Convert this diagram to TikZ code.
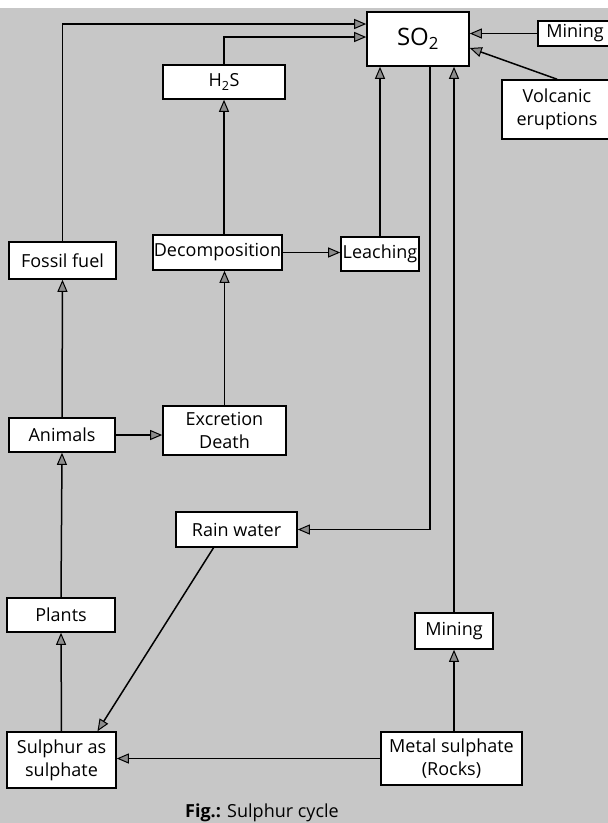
\documentclass[tikz,border=0pt]{standalone}
\usepackage{fontspec}
\setmainfont{Open Sans}
\usetikzlibrary{arrows.meta}

\begin{document}
\begin{tikzpicture}[x=1pt,y=-1pt,
  box/.style={draw,line width=1.6pt,fill=white,inner sep=0pt,align=center,
    font=\fontsize{18}{23}\selectfont},
  arr/.style={line width=1.5pt,-{Triangle[length=12pt,width=10pt,fill=black!45,line width=1pt]}}]
\useasboundingbox (0,0) rectangle (608,823);
\fill[black!22] (0,8) rectangle (608,823);
%
\node[box,minimum width=102pt,minimum height=54pt,font=\fontsize{24}{26}\selectfont] (so2) at (418,39) {SO\textsubscript{2}};
\node[box,minimum width=74pt,minimum height=25pt] (minetop) at (575,33.5) {Mining};
\node[box,minimum width=110pt,minimum height=59pt] (volc) at (557,109.5) {Volcanic\\eruptions};
\node[box,minimum width=122pt,minimum height=34pt] (h2s) at (224,82) {H\textsubscript{2}S};
\node[box,minimum width=107pt,minimum height=37pt] (fossil) at (62.5,260.5) {Fossil fuel};
\node[box,minimum width=129pt,minimum height=35pt] (decomp) at (217.5,252.5) {Decomposition};
\node[box,minimum width=78pt,minimum height=34pt] (leach) at (380,254) {Leaching};
\node[box,minimum width=106pt,minimum height=34pt] (animals) at (62,435) {Animals};
\node[box,minimum width=123pt,minimum height=49pt] (excr) at (224.5,430.5) {Excretion\\Death};
\node[box,minimum width=121pt,minimum height=35pt] (rain) at (236.5,529.5) {Rain water};
\node[box,minimum width=108pt,minimum height=34pt] (plants) at (61,615) {Plants};
\node[box,minimum width=78pt,minimum height=36pt] (minelow) at (454,631) {Mining};
\node[box,minimum width=109pt,minimum height=56pt] (sulph) at (61.5,760) {Sulphur as\\sulphate};
\node[box,minimum width=141pt,minimum height=53pt] (metal) at (451.5,758.5) {Metal sulphate\\(Rocks)};
\node[anchor=base west,inner sep=0pt,font=\fontsize{18}{20}\selectfont] (cap) at (185,817) {\textbf{Fig.:} Sulphur cycle};
%
\draw[arr] (fossil.north) |- ([yshift=15pt]so2.west);
\draw[arr] (h2s.north) |- ([yshift=2pt]so2.west);
\draw[arr] (minetop.west) -- (minetop.west -| so2.east);
\draw[arr] (volc.north) -- ([yshift=-9pt]so2.east);
\draw[arr] (leach.north) -- (leach.north |- so2.south);
\draw[arr] (minelow.north) -- (minelow.north |- so2.south);
\draw[arr] ([xshift=12pt]so2.south) |- (rain.east);
\draw[arr] (h2s.south |- decomp.north) -- (h2s.south);
\draw[arr] (decomp.east) -- (decomp.east -| leach.west);
\draw[arr] (excr.north) -- (excr.north |- decomp.south);
\draw[arr] (animals.east) -- (animals.east -| excr.west);
\draw[arr] (animals.north) -- (fossil.south);
\draw[arr] (plants.north) -- (animals.south);
\draw[arr] (sulph.north) -- (plants.south);
\draw[arr] ([xshift=-23pt]rain.south) -- ([xshift=36pt]sulph.north);
\draw[arr] (metal.west) -- (metal.west -| sulph.east);
\draw[arr] (minelow.south |- metal.north) -- (minelow.south);
\end{tikzpicture}
\end{document}
